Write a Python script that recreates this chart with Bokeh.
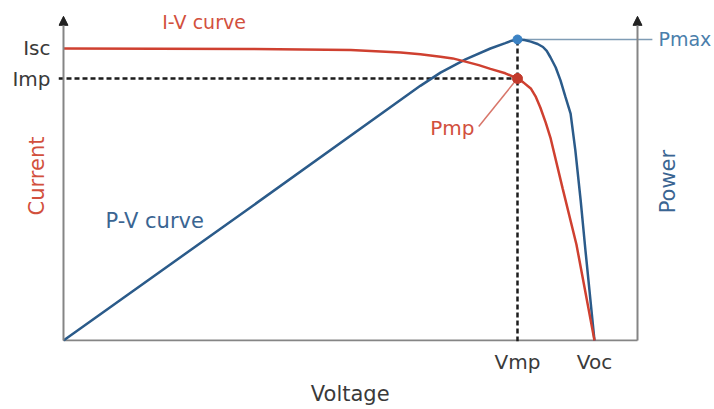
import math
from bokeh.plotting import figure
from bokeh.models import Range1d, FixedTicker, Arrow, NormalHead, LinearAxis
from bokeh.core.properties import value
from bokeh.embed import file_html
from bokeh.resources import INLINE

# ---- data (arbitrary units: Voc = 100, Isc = 100, Pmax = 100)
IV_VOLTAGE = [0, 35.2, 54.1, 63.5, 67.2, 71.0, 73.3, 75.7, 78.2, 80.4, 83.2, 85.5,
              86.6, 88.0, 88.9, 89.8, 90.8, 91.7, 94.0, 96.6, 100]
IV_CURRENT = [100, 99.8, 99.5, 98.6, 98.0, 97.2, 96.6, 95.5, 94.3, 93.0, 91.5, 89.7,
              88.4, 86.3, 83.6, 79.8, 74.7, 69.5, 52.1, 32.9, 0]
PV_VOLTAGE = [0, 35.2, 67.2, 71.0, 75.7, 80.4, 83.2, 84.4, 85.5, 86.8, 88.0, 89.3,
              90.3, 91.0, 91.7, 92.7, 93.6, 94.5, 95.5, 96.4, 97.4, 98.3, 100]
PV_POWER = [0, 44.2, 84.6, 89.0, 93.4, 97.0, 98.8, 99.6, 100, 99.8, 99.3, 98.5,
            97.5, 96.2, 94.1, 90.7, 86.4, 81.1, 75.4, 63.1, 46.5, 29.9, 0]

ISC = 100
IMP = 89.7
VMP = 85.5
VOC = 100
PMAX = 100

CURRENT_TICKS = [IMP, ISC]
CURRENT_TICK_LABELS = ["Imp", "Isc"]
VOLTAGE_TICKS = [VMP, VOC]
VOLTAGE_TICK_LABELS = ["Vmp", "Voc"]

# ---- layout constants
X_START, X_END = -0.94, 122.6
Y_START, Y_END = -0.34, 113.0
P_START, P_END = -0.33, 109.63
AXIS_RIGHT_V = 108.1
AXIS_TOP_I = 111.0

IV_LABEL_POS = (18.6, 108.9)
PV_LABEL_POS = (7.9, 40.8)
PMP_LABEL_POS = (77.4, 72.6)
PMP_LEADER = ((78.2, 73.3), (84.9, 88.4))
PMAX_LEADER_END_V = 110.9
PMAX_LABEL_V = 112.05
POWER_LABEL_POS = (113.9, 52.8)
VOLTAGE_TITLE_V = 54.0

FONT = "DejaVu Sans"
RED = "#cf4030"
RED_TEXT = "#d2503d"
BLUE = "#2b5b8a"
BLUE_TEXT = "#3a6592"
BLUE_LIGHT = "#4a7eab"
GRAY = "#858585"
DARK = "#3a3a3a"

p = figure(width=714, height=409,
           x_range=Range1d(X_START, X_END), y_range=Range1d(Y_START, Y_END),
           output_backend="svg", toolbar_location=None,
           min_border_left=58, min_border_right=0, min_border_top=10, min_border_bottom=68,
           background_fill_color="white", border_fill_color="white",
           outline_line_color=None)
p.extra_y_ranges = {"power": Range1d(P_START, P_END)}
p.grid.visible = False

# left axis (current)
ya = p.yaxis[0]
ya.ticker = FixedTicker(ticks=CURRENT_TICKS)
ya.major_label_overrides = dict(zip(CURRENT_TICKS, CURRENT_TICK_LABELS))
ya.axis_line_color = None
ya.major_tick_line_color = None
ya.minor_tick_line_color = None
ya.major_tick_in = 0
ya.major_tick_out = 0
ya.major_label_standoff = 8
ya.major_label_text_font = FONT
ya.major_label_text_font_size = "20px"
ya.major_label_text_color = DARK
ya.axis_label = "Current"
ya.axis_label_text_font = FONT
ya.axis_label_text_font_size = "21px"
ya.axis_label_text_font_style = "normal"
ya.axis_label_text_color = RED_TEXT
ya.axis_label_standoff = -40

# bottom axis (voltage ticks)
xa = p.xaxis[0]
xa.ticker = FixedTicker(ticks=VOLTAGE_TICKS)
xa.major_label_overrides = dict(zip(VOLTAGE_TICKS, VOLTAGE_TICK_LABELS))
xa.axis_line_color = None
xa.major_tick_line_color = None
xa.minor_tick_line_color = None
xa.major_tick_in = 0
xa.major_tick_out = 0
xa.major_label_standoff = 8
xa.major_label_text_font = FONT
xa.major_label_text_font_size = "20px"
xa.major_label_text_color = DARK

# second bottom axis carrying the "Voltage" title under the chart area
va = LinearAxis(ticker=FixedTicker(ticks=[VOLTAGE_TITLE_V]),
                major_label_overrides={VOLTAGE_TITLE_V: "Voltage"},
                axis_line_color=None, major_tick_line_color=None, minor_tick_line_color=None,
                major_tick_in=0, major_tick_out=0, major_label_standoff=5,
                major_label_text_font=FONT, major_label_text_font_size="21px",
                major_label_text_color=DARK)
p.add_layout(va, "below")

# drawn axis lines with arrow heads
p.segment(x0=[0], y0=[0], x1=[AXIS_RIGHT_V], y1=[0], line_color=GRAY, line_width=2)
for xv in (0, AXIS_RIGHT_V):
    p.add_layout(Arrow(end=NormalHead(size=9, fill_color="#222222", line_color="#222222", line_width=1),
                       x_start=xv, y_start=0, x_end=xv, y_end=AXIS_TOP_I,
                       line_color=GRAY, line_width=2))

# dashed guides
p.line([X_START, VMP], [IMP, IMP], line_color="#1c1c1c", line_width=2.5, line_dash="5 3")
p.line([VMP, VMP], [P_START, PMAX], y_range_name="power",
       line_color="#1c1c1c", line_width=2.5, line_dash="5 3")

# Pmax leader
p.line([VMP, PMAX_LEADER_END_V], [PMAX, PMAX], y_range_name="power",
       line_color="#7f9cb5", line_width=1.5)

# curves
p.line(PV_VOLTAGE, PV_POWER, y_range_name="power", line_color=BLUE, line_width=2.5)
p.line(IV_VOLTAGE, IV_CURRENT, line_color=RED, line_width=2.5)

# Pmp leader
p.line([PMP_LEADER[0][0], PMP_LEADER[1][0]], [PMP_LEADER[0][1], PMP_LEADER[1][1]],
       line_color="#d8766a", line_width=1.5)

# points
p.scatter([VMP], [PMAX], y_range_name="power", size=9, fill_color="#3b82c4", line_color="#3b82c4")
p.scatter([VMP], [IMP], size=10, fill_color="#c23a2c", line_color="#c23a2c")

# labels
p.text(x=[IV_LABEL_POS[0]], y=[IV_LABEL_POS[1]], text=["I-V curve"],
       text_font=value(FONT), text_font_size=value("19px"), text_color=RED_TEXT,
       text_align="left", text_baseline="middle")
p.text(x=[PV_LABEL_POS[0]], y=[PV_LABEL_POS[1]], text=["P-V curve"],
       text_font=value(FONT), text_font_size=value("21px"), text_color=BLUE_TEXT,
       text_align="left", text_baseline="middle")
p.text(x=[PMP_LABEL_POS[0]], y=[PMP_LABEL_POS[1]], text=["Pmp"],
       text_font=value(FONT), text_font_size=value("20px"), text_color=RED_TEXT,
       text_align="right", text_baseline="middle")
p.text(x=[PMAX_LABEL_V], y=[PMAX], y_range_name="power", text=["Pmax"],
       text_font=value(FONT), text_font_size=value("19px"), text_color=BLUE_LIGHT,
       text_align="left", text_baseline="middle")
p.text(x=[POWER_LABEL_POS[0]], y=[POWER_LABEL_POS[1]], y_range_name="power", text=["Power"],
       angle=math.pi / 2, text_font=value(FONT), text_font_size=value("21px"),
       text_color=BLUE_TEXT, text_align="center", text_baseline="middle")

open("out.html", "w").write(file_html(p, INLINE))
